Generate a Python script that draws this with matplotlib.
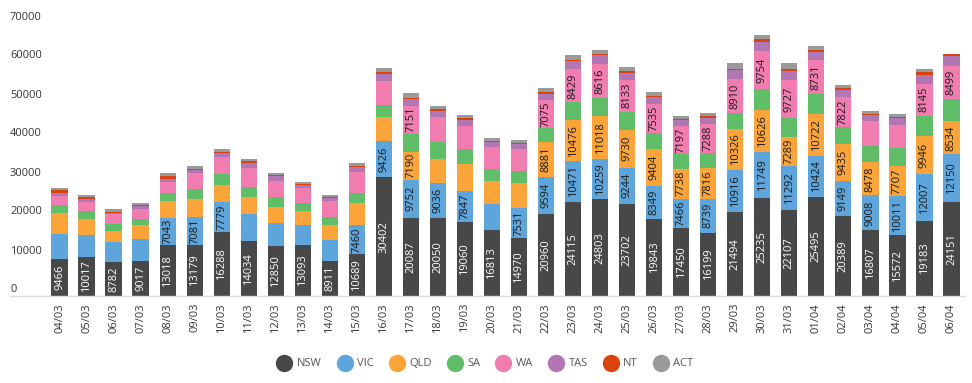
import matplotlib
matplotlib.use("Agg")
import matplotlib.pyplot as plt
import matplotlib.transforms as mtransforms
from matplotlib.lines import Line2D
import numpy as np

plt.rcParams['font.family'] = ['Open Sans', 'DejaVu Sans']

dates = ['04/03', '05/03', '06/03', '07/03', '08/03', '09/03', '10/03', '11/03',
         '12/03', '13/03', '14/03', '15/03', '16/03', '17/03', '18/03', '19/03',
         '20/03', '21/03', '22/03', '23/03', '24/03', '25/03', '26/03', '27/03',
         '28/03', '29/03', '30/03', '31/03', '01/04', '02/04', '03/04', '04/04',
         '05/04', '06/04']

nsw = [9466, 10017, 8782, 9017, 13018, 13179, 16288, 14034, 12850, 13093, 8911, 10689,
       30402, 20087, 20050, 19060, 16813, 14970, 20960, 24115, 24803, 23702, 19843, 17450,
       16199, 21494, 25235, 22107, 25495, 20389, 16807, 15572, 19183, 24151]
vic = [6400, 5640, 5120, 5640, 7043, 7081, 7779, 6900, 5890, 5120, 5550, 7460,
       9426, 9752, 9036, 7847, 6660, 7531, 9594, 10471, 10259, 9244, 8349, 7466,
       8739, 10916, 11749, 11292, 10424, 9149, 9008, 10011, 12007, 12150]
qld = [5300, 4100, 2730, 3670, 4355, 4700, 4270, 4355, 4100, 3670, 3840, 5640,
       6150, 7190, 6150, 6950, 5980, 6400, 8881, 10476, 11018, 9730, 9404, 7738,
       7816, 10326, 10626, 7289, 10722, 9435, 8478, 7707, 9946, 8534]
sa = [2130, 2050, 1790, 1450, 1960, 2480, 2820, 2650, 2560, 1960, 1960, 2560,
      2990, 4610, 4355, 3760, 2990, 3070, 3670, 4610, 4700, 4610, 4100, 3760,
      4010, 4100, 5470, 4870, 5120, 4355, 4100, 4610, 5120, 5640]
wa = [2390, 2220, 2480, 2560, 2900, 4010, 4440, 4870, 4100, 3760, 4180, 5470,
      6230, 7151, 6230, 5890, 5720, 5720, 7075, 8429, 8616, 8133, 7535, 7197,
      7288, 8910, 9754, 9727, 8731, 7822, 6400, 5890, 8145, 8499]
tas = [770, 850, 430, 770, 850, 850, 1020, 1370, 1280, 850, 600, 1280,
       1790, 1620, 1710, 1710, 1200, 1280, 1710, 2050, 2300, 1710, 1710, 1450,
       1710, 2300, 2390, 2480, 2050, 1710, 1620, 1790, 2220, 2560]
nt = [850, 510, 260, 340, 680, 340, 430, 340, 340, 340, 340, 340,
      430, 430, 340, 340, 260, 170, 340, 260, 260, 510, 340, 340,
      340, 260, 600, 510, 510, 510, 260, 340, 770, 510]
act = [510, 510, 680, 510, 680, 680, 770, 510, 430, 430, 510, 600,
       1110, 1200, 940, 770, 770, 770, 1020, 1450, 1020, 1020, 1020, 770,
       770, 1370, 1020, 1370, 1020, 850, 680, 680, 770, 0]

states = ['NSW', 'VIC', 'QLD', 'SA', 'WA', 'TAS', 'NT', 'ACT']
series = [nsw, vic, qld, sa, wa, tas, nt, act]
colors = ['#484848', '#5da5da', '#faa43a', '#60bd68', '#f17cb0', '#b276b2', '#d8430f', '#9a9a9a']
label_colors = ['white', '#1a1a1a', '#1a1a1a', '#1a1a1a', '#1a1a1a', '#1a1a1a', '#1a1a1a', '#1a1a1a']
yticks = [0, 10000, 20000, 30000, 40000, 50000, 60000, 70000]

fig = plt.figure(figsize=(9.72, 3.83), dpi=100)
ax = fig.add_axes([46 / 972, 87 / 383, 919 / 972, 273 / 383])

x = np.arange(len(dates))
bottom = np.zeros(len(dates))
for vals, col, tcol in zip(series, colors, label_colors):
    vals = np.array(vals, dtype=float)
    ax.bar(x, vals, bottom=bottom, width=0.6, color=col, linewidth=0)
    for i, v in enumerate(vals):
        if v >= 7000:
            ax.text(x[i], bottom[i] + v / 2, str(int(v)), rotation=90,
                    ha='center', va='center', fontsize=8, color=tcol)
    bottom += vals

ax.set_xlim(-0.5, len(dates) - 0.5)
ax.set_ylim(0, 70000)

# y labels sit a little above their value, left aligned
ax.set_yticks([])
trans = mtransforms.blended_transform_factory(fig.transFigure, ax.transData)
trans = trans + mtransforms.ScaledTranslation(0, 6 / 100, fig.dpi_scale_trans)
for t in yticks:
    ax.text(10 / 972, t, str(t), transform=trans, ha='left', va='center',
            fontsize=8, color='#333333')

ax.set_xticks(x)
ax.set_xticklabels(dates, rotation=90, fontsize=8, color='#333333')
ax.tick_params(axis='x', length=0, pad=5)

for s in ['top', 'right', 'left', 'bottom']:
    ax.spines[s].set_visible(False)

# baseline runs under the y labels too
fig.add_artist(Line2D([10 / 972, 965 / 972], [87 / 383, 87 / 383],
                      color='#dddddd', linewidth=1, transform=fig.transFigure))

handles = [Line2D([0], [0], marker='o', linestyle='', markersize=11.5,
                  markerfacecolor=c, markeredgecolor=c) for c in colors]
fig.legend(handles, states, loc='center', bbox_to_anchor=(0.5, 19 / 383), ncol=8,
           frameon=False, fontsize=8, labelcolor='#555555', handletextpad=0.6,
           columnspacing=1.6, handlelength=1.0)

fig.savefig('out.png', dpi=100)
